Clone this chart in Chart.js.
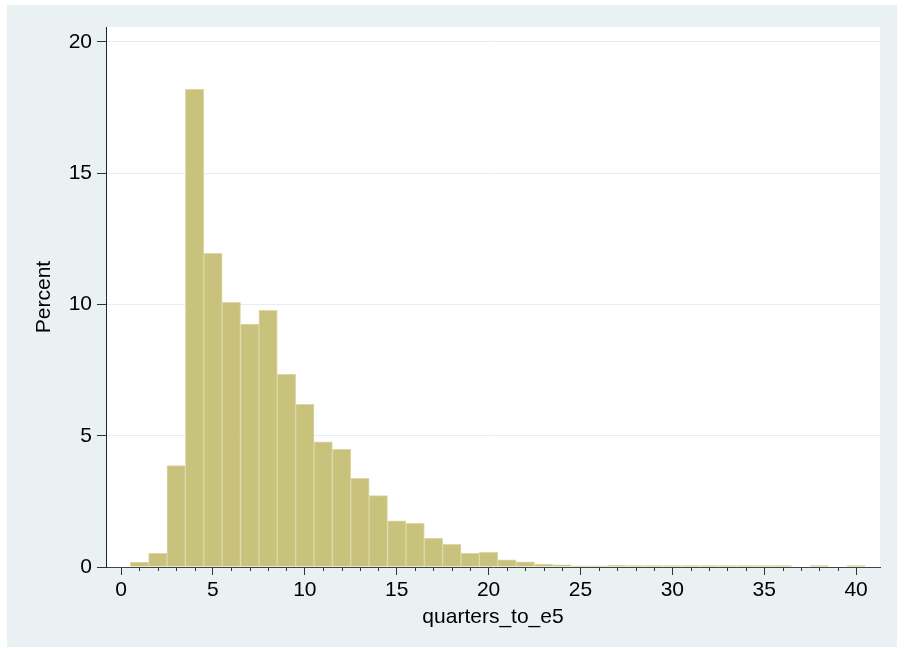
<!DOCTYPE html>
<html>
<head>
<meta charset="utf-8">
<script src="https://cdn.jsdelivr.net/npm/chart.js@4"></script>
<style>
    html, body { margin: 0; padding: 0; background: #fff; }
    #frame { position: absolute; left: 7px; top: 5px; width: 890px; height: 642px; background: #eaf1f3; }
    canvas { display: block; }
</style>
</head>
<body>
<div id="frame"><canvas id="hist" width="890" height="642"></canvas></div>
<script>
// histogram bins (bar centres) and their percent heights
const bins = [1, 2, 3, 4, 5, 6, 7, 8, 9, 10,
              11, 12, 13, 14, 15, 16, 17, 18, 19, 20,
              21, 22, 23, 24, 25, 26, 27, 28, 29, 30,
              31, 32, 33, 34, 35, 36, 37, 38, 39, 40];
const percent = [0.18, 0.52, 3.86, 18.2, 11.95, 10.08, 9.25, 9.78, 7.34, 6.2,
                 4.77, 4.48, 3.38, 2.72, 1.76, 1.66, 1.09, 0.86, 0.52, 0.56,
                 0.27, 0.2, 0.11, 0.08, 0.04, 0.04, 0.06, 0.05, 0.05, 0.05,
                 0.05, 0.05, 0.05, 0.05, 0.05, 0.05, 0, 0.05, 0, 0.05];
const yTicks = [0, 5, 10, 15, 20];
const xTicks = [0, 5, 10, 15, 20, 25, 30, 35, 40];

const font = { family: '"Liberation Sans", Helvetica, Arial, sans-serif', size: 21 };

const plotBackground = {
    id: 'plotBackground',
    beforeDraw(chart) {
        const { ctx, chartArea: a } = chart;
        ctx.save();
        ctx.fillStyle = '#ffffff';
        ctx.fillRect(a.left, a.top, a.right - a.left, a.bottom - a.top);
        ctx.restore();
    }
};

// small ticks at every whole unit between the labelled ones
const minorTicks = {
    id: 'minorTicks',
    afterDraw(chart) {
        const x = chart.scales.x;
        const ctx = chart.ctx;
        ctx.save();
        ctx.strokeStyle = '#333';
        ctx.lineWidth = 1;
        for (let v = xTicks[0]; v <= xTicks[xTicks.length - 1]; v++) {
            if (xTicks.includes(v)) continue;
            const px = Math.round(x.getPixelForValue(v)) + 0.5;
            ctx.beginPath();
            ctx.moveTo(px, x.top);
            ctx.lineTo(px, x.top + 4);
            ctx.stroke();
        }
        ctx.restore();
    }
};

new Chart('hist', {
    type: 'bar',
    data: {
        datasets: [{
            data: bins.map((b, i) => ({ x: b, y: percent[i] || null })),
            backgroundColor: '#c9c27d',
            borderColor: '#dcd7a6',
            borderWidth: 1,
            barPercentage: 1,
            categoryPercentage: 1
        }]
    },
    options: {
        responsive: false,
        animation: false,
        layout: { padding: { left: 0, top: 22, right: 17, bottom: 0 } },
        plugins: { legend: { display: false }, tooltip: { enabled: false } },
        scales: {
            x: {
                type: 'linear',
                offset: false,
                min: -0.82,
                max: 41.3,
                afterBuildTicks: (s) => { s.ticks = xTicks.map(v => ({ value: v })); },
                afterFit: (s) => { s.height = 80; },
                grid: { offset: false, drawOnChartArea: false, tickLength: 8, tickColor: '#333' },
                border: { color: '#444', width: 1 },
                ticks: { color: '#000', font: font, padding: 3, maxRotation: 0 },
                title: { display: true, text: 'quarters_to_e5', color: '#000', font: font, padding: { top: 0, bottom: 17 } }
            },
            y: {
                min: 0,
                max: 20.57,
                afterBuildTicks: (s) => { s.ticks = yTicks.map(v => ({ value: v })); },
                afterFit: (s) => { s.width = 99; },
                grid: { color: '#e5edf0', lineWidth: 1, tickLength: 9, tickColor: '#333' },
                border: { color: '#222', width: 1 },
                ticks: { color: '#000', font: font, padding: 5 },
                title: { display: true, text: 'Percent', color: '#000', font: font, padding: { top: 25, bottom: 0 } }
            }
        }
    },
    plugins: [plotBackground, minorTicks]
});
</script>
</body>
</html>
